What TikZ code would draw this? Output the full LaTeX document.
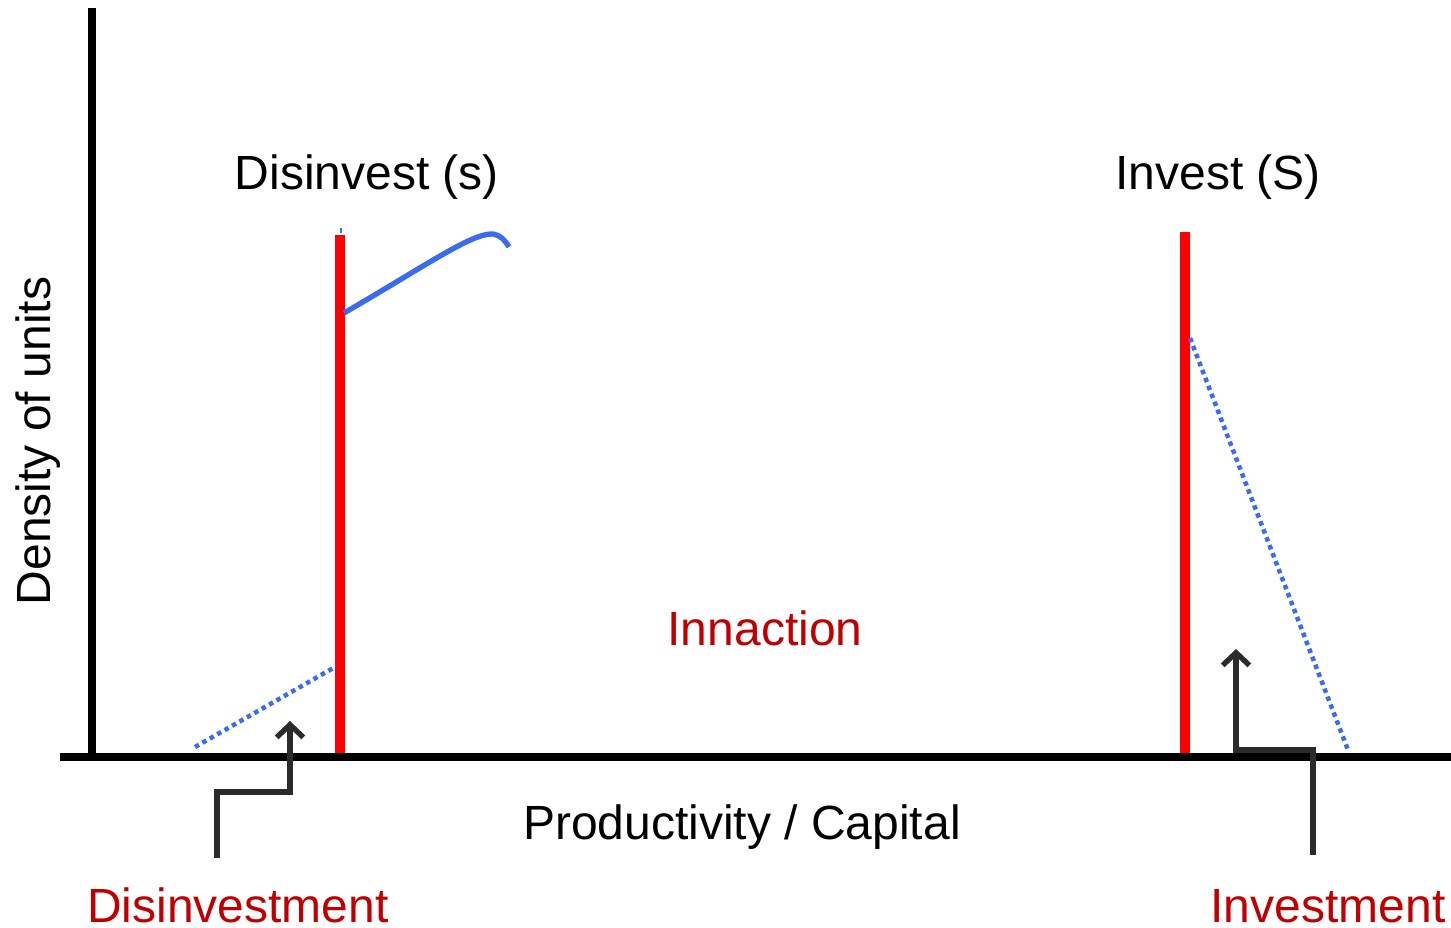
\documentclass[tikz,border=0pt]{standalone}
\usepackage{fontspec}
\setmainfont{Liberation Sans}
\usetikzlibrary{arrows.meta}
\definecolor{redline}{RGB}{255,0,0}
\definecolor{redtext}{RGB}{192,0,0}
\definecolor{blueline}{RGB}{59,108,240}
\definecolor{darkarrow}{RGB}{43,43,43}
\begin{document}
\begin{tikzpicture}[x=0.75pt,y=-0.75pt,
  axis/.style={line width=6.5pt,black},
  threshold/.style={line width=8pt,redline},
  density/.style={line width=4pt,blueline},
  dottedline/.style={line width=3.4pt,blueline,dash pattern=on 3.4pt off 3pt},
  flow/.style={line width=4pt,darkarrow,-{Straight Barb[length=9.5pt,width=20pt,line width=4pt]}},
  lbl/.style={font=\fontsize{36}{40}\selectfont,inner sep=0pt,anchor=base},
  redlbl/.style={lbl,text=redtext}]
\useasboundingbox (0,0) rectangle (1451,927);
% axes
\coordinate (ytop) at (92,8);
\coordinate (ybot) at (92,753);
\coordinate (xl) at (60,757);
\coordinate (xr) at (1451,757);
\draw[axis] (ytop) -- (ybot);
\draw[axis] (xl) -- (xr);
% thresholds
\coordinate (s1) at (340,235);
\coordinate (s2) at (340,753);
\coordinate (S1) at (1185,232);
\coordinate (S2) at (1185,753);
\draw[threshold] (s1) -- (s2);
\draw[threshold] (S1) -- (S2);
% density curves
\coordinate (c0) at (344,313);
\coordinate (c1) at (493,234);
\coordinate (c2) at (509,247);
\draw[density] (c0) .. controls (430,263) and (472,233) .. (c1) .. controls (500,235) and (505,240) .. (c2);
\draw[line width=1pt,blueline] (341,228) -- (341,233);
\coordinate (d0) at (195,747);
\coordinate (d1) at (335,667);
\draw[dottedline] (d0) -- (d1);
\coordinate (e0) at (1190,338);
\coordinate (e1) at (1348,750);
\draw[dottedline] (e0) -- (e1);
% flows
\coordinate (a0) at (217,858);
\coordinate (a1) at (290,721);
\draw[flow] (a0) |- (290,792) -- (a1);
\coordinate (b0) at (1313,855);
\coordinate (b1) at (1236,649);
\draw[flow] (b0) |- (1236,750) -- (b1);
% labels
\node[lbl] (lds) at (367,190) {Disinvest (s)};
\node[lbl] (lis) at (1218,190) {Invest (S)};
\node[redlbl] (lin) at (765,645) {Innaction};
\node[lbl] (lpc) at (742,839) {Productivity / Capital};
\node[redlbl] (ldi) at (238,922) {Disinvestment};
\node[redlbl] (linv) at (1328,922) {Investment};
\node[lbl,rotate=90] (ly) at (50,441) {Density of units};
\end{tikzpicture}
\end{document}
